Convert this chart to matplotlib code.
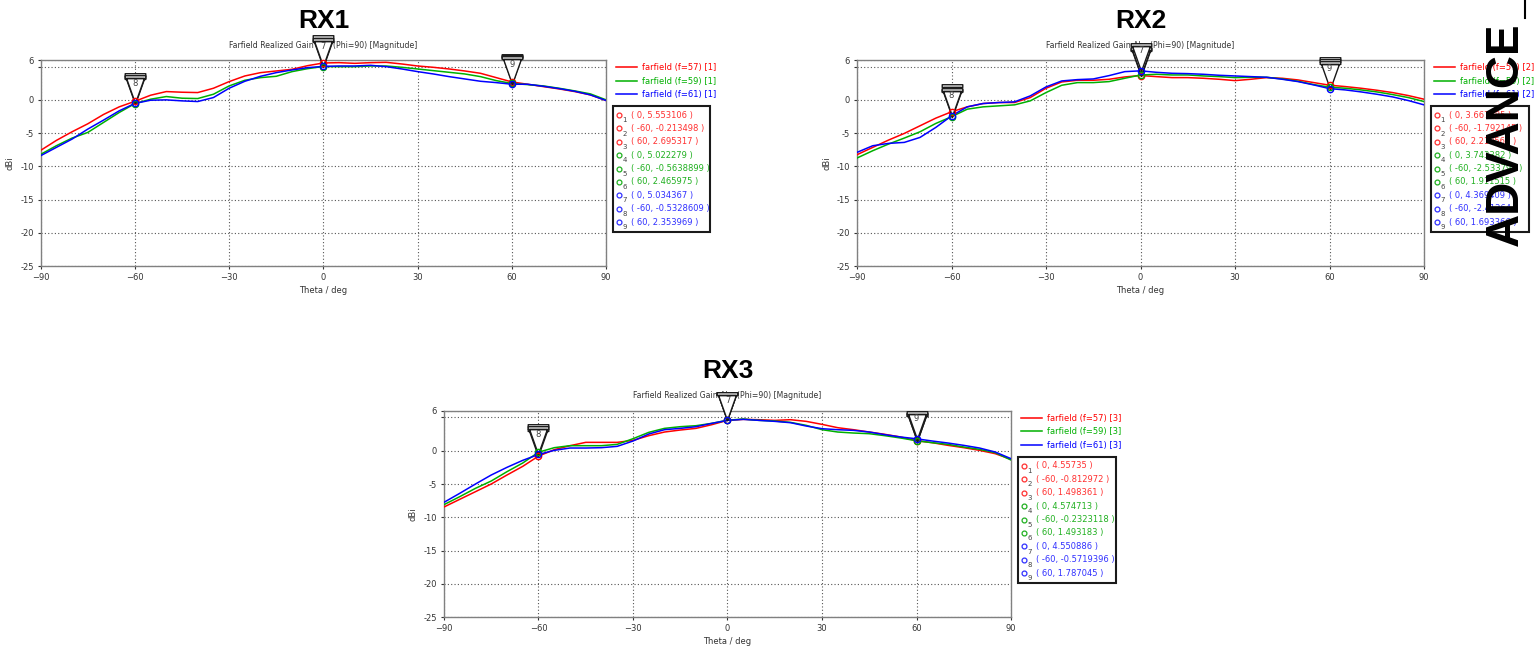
import numpy as np
import matplotlib.pyplot as plt
from matplotlib.path import Path
from matplotlib.patches import Rectangle
from matplotlib.lines import Line2D

# theta sampling (deg) and frequencies
theta = np.arange(-90, 95, 5)
freqs = [57, 59, 61]
colors = ['#ff0000', '#00b000', '#0000ff']
text_colors = ['#ff3030', '#20b020', '#3030ff']
marker_angles = [0, -60, 60]

# RX1 realized gain (dBi)
rx1_f57 = [-7.6, -6.1, -4.8, -3.6, -2.2, -1.05, -0.213498, 0.7, 1.25, 1.15, 1.1, 1.75, 2.75,
           3.6, 4.1, 4.35, 4.6, 5.15, 5.553106, 5.6, 5.5, 5.6, 5.65, 5.4, 5.1, 4.9, 4.65,
           4.35, 4.0, 3.35, 2.695317, 2.35, 2.0, 1.65, 1.25, 0.75, -0.1]
rx1_f59 = [-8.2, -6.9, -5.75, -4.9, -3.4, -1.9, -0.5638899, 0.1, 0.5, 0.25, 0.2, 0.85, 2.1,
           2.95, 3.35, 3.55, 4.25, 4.7, 5.022279, 5.0, 5.0, 5.1, 5.1, 4.9, 4.65, 4.4, 4.15,
           3.9, 3.5, 2.9, 2.465975, 2.3, 2.1, 1.75, 1.35, 0.9, 0.0]
rx1_f61 = [-8.4, -7.15, -5.9, -4.4, -3.05, -1.65, -0.5328609, -0.05, 0.0, -0.15, -0.25, 0.35,
           1.75, 2.8, 3.55, 4.1, 4.5, 4.85, 5.034367, 5.1, 5.1, 5.2, 5.0, 4.65, 4.25, 3.9,
           3.5, 3.15, 2.8, 2.6, 2.353969, 2.35, 2.05, 1.7, 1.3, 0.75, -0.1]
rx1_marks = [[5.553106, -0.213498, 2.695317],
             [5.022279, -0.5638899, 2.465975],
             [5.034367, -0.5328609, 2.353969]]

# RX2
rx2_f57 = [-8.25, -7.15, -6.05, -5.05, -3.9, -2.75, -1.792145, -1.05, -0.55, -0.4, -0.4, 0.35,
           1.75, 2.7, 2.95, 2.95, 3.1, 3.45, 3.667985, 3.5, 3.35, 3.35, 3.25, 3.1, 2.9, 3.1,
           3.35, 3.25, 3.0, 2.6, 2.210563, 2.0, 1.75, 1.45, 1.1, 0.65, 0.1]
rx2_f59 = [-8.75, -7.65, -6.65, -5.75, -4.8, -3.55, -2.533791, -1.4, -1.05, -0.9, -0.75, -0.15,
           1.1, 2.2, 2.6, 2.6, 2.75, 3.25, 3.743382, 3.85, 3.75, 3.75, 3.6, 3.5, 3.35, 3.4,
           3.4, 3.15, 2.8, 2.3, 1.911515, 1.75, 1.5, 1.2, 0.8, 0.35, -0.25]
rx2_f61 = [-7.9, -6.9, -6.55, -6.4, -5.65, -4.15, -2.41264, -1.05, -0.55, -0.4, -0.3, 0.6,
           1.95, 2.85, 3.05, 3.15, 3.65, 4.25, 4.369409, 4.15, 4.0, 3.95, 3.85, 3.7, 3.6, 3.5,
           3.4, 3.1, 2.75, 2.25, 1.693366, 1.5, 1.2, 0.85, 0.45, -0.1, -0.75]
rx2_marks = [[3.667985, -1.792145, 2.210563],
             [3.743382, -2.533791, 1.911515],
             [4.369409, -2.41264, 1.693366]]

# RX3
rx3_f57 = [-8.45, -7.3, -6.15, -5.0, -3.65, -2.35, -0.812972, 0.15, 0.75, 1.25, 1.25, 1.25,
           1.55, 2.25, 2.8, 3.1, 3.35, 3.9, 4.55735, 4.7, 4.65, 4.55, 4.65, 4.4, 3.95, 3.45,
           3.15, 2.8, 2.45, 2.05, 1.498361, 1.2, 0.8, 0.45, 0.05, -0.45, -1.3]
rx3_f59 = [-8.1, -6.9, -5.65, -4.55, -3.15, -1.85, -0.2323118, 0.45, 0.75, 0.75, 0.75, 0.95,
           1.8, 2.75, 3.35, 3.6, 3.75, 4.1, 4.574713, 4.75, 4.55, 4.45, 4.25, 3.8, 3.15, 2.8,
           2.65, 2.55, 2.25, 1.9, 1.493183, 1.2, 0.95, 0.55, 0.2, -0.3, -1.4]
rx3_f61 = [-7.75, -6.4, -5.0, -3.65, -2.5, -1.45, -0.5719396, 0.05, 0.4, 0.4, 0.45, 0.65,
           1.45, 2.5, 3.15, 3.35, 3.6, 4.1, 4.550886, 4.7, 4.55, 4.4, 4.2, 3.7, 3.3, 3.15,
           3.05, 2.8, 2.4, 2.05, 1.787045, 1.45, 1.15, 0.8, 0.4, -0.2, -1.2]
rx3_marks = [[4.55735, -0.812972, 1.498361],
             [4.574713, -0.2323118, 1.493183],
             [4.550886, -0.5719396, 1.787045]]

panels = [
    ("RX1", 1, [0.0264, 0.5895, 0.3672, 0.3179], [rx1_f57, rx1_f59, rx1_f61], rx1_marks),
    ("RX2", 2, [0.5565, 0.5895, 0.3682, 0.3179], [rx2_f57, rx2_f59, rx2_f61], rx2_marks),
    ("RX3", 3, [0.2883, 0.0474, 0.3682, 0.3188], [rx3_f57, rx3_f59, rx3_f61], rx3_marks),
]

# CST style marker flag: triangle pointing at the point with a bar on top
tri = Path([(0, 0), (-0.32, 0.9), (0.32, 0.9), (0, 0),
            (-0.37, 0.9), (0.37, 0.9), (0.37, 1.0), (-0.37, 1.0), (-0.37, 0.9)],
           [Path.MOVETO, Path.LINETO, Path.LINETO, Path.CLOSEPOLY,
            Path.MOVETO, Path.LINETO, Path.LINETO, Path.LINETO, Path.CLOSEPOLY])

plt.rcParams['font.family'] = 'DejaVu Sans'
fig = plt.figure(figsize=(15.4, 6.48), dpi=100)

for name, idx, pos, curves, marks in panels:
    ax = fig.add_axes(pos)
    handles = []
    for k, (vals, c) in enumerate(zip(curves, colors)):
        ln, = ax.plot(theta, vals, color=c, lw=1.1, zorder=3)
        handles.append(ln)

    # markers 1..9, only the last set (7, 8, 9) shows its number on top
    for k in range(3):
        for j, ang in enumerate(marker_angles):
            num = 3 * k + j + 1
            ax.plot([ang], [marks[k][j]], marker=tri, ms=40, mfc='white', mec='#1a1a1a',
                    mew=1.0, ls='none', clip_on=False, zorder=10 + 2 * num)
            if k == 2:
                ax.annotate(str(num), (ang, marks[k][j]), xytext=(0, 14.5),
                            textcoords='offset points', ha='center', va='center',
                            fontsize=6, color='#404040', annotation_clip=False,
                            zorder=11 + 2 * num)
    for k in range(3):
        ax.plot(marker_angles, marks[k], 'o', ms=4.5, mfc='none', mec=colors[k], mew=1.0,
                ls='none', clip_on=False, zorder=40)

    ax.set_xlim(-90, 90)
    ax.set_ylim(-25, 6)
    ax.set_xticks([-90, -60, -30, 0, 30, 60, 90])
    ax.set_yticks([-25, -20, -15, -10, -5, 0, 5, 6])
    ax.set_yticklabels(['-25', '-20', '-15', '-10', '-5', '0', '', '6'])
    ax.grid(True, color='#555555', ls=(0, (1, 2)), lw=0.8)
    ax.tick_params(labelsize=6, colors='#333333', length=2, pad=3)
    for s in ax.spines.values():
        s.set_color('#808080')
        s.set_linewidth(1.0)
    ax.set_xlabel('Theta / deg', fontsize=6, color='#333333', labelpad=3)
    ax.set_ylabel('dBi', fontsize=6, color='#333333', labelpad=4)

    ax.text(0.5, 1.19, name, transform=ax.transAxes, ha='center', va='center',
            fontsize=19, fontweight='bold', family='Liberation Sans')
    ax.text(0.5, 1.072, 'Farfield Realized Gain Abs (Phi=90) [Magnitude]',
            transform=ax.transAxes, ha='center', va='center', fontsize=5.6, color='#333333')

    leg = ax.legend(handles, [f'farfield (f={f}) [{idx}]' for f in freqs],
                    loc='upper left', bbox_to_anchor=(1.018, 0.985), frameon=False,
                    fontsize=6, handlelength=2.5, handletextpad=0.55, labelspacing=0.55,
                    borderpad=0, borderaxespad=0, labelcolor='linecolor')

    # marker value box
    ax.add_patch(Rectangle((1.0124, 0.165), 0.172, 0.612, transform=ax.transAxes,
                           fc='white', ec='#1a1a1a', lw=1.5, clip_on=False, zorder=5))
    for k in range(3):
        for j, ang in enumerate(marker_angles):
            num = 3 * k + j + 1
            yr = 0.733 - 0.065 * (num - 1)
            ax.plot([1.0225], [yr], 'o', ms=3.5, mfc='none', mec=text_colors[k], mew=0.9,
                    transform=ax.transAxes, clip_on=False, zorder=6)
            ax.text(1.029, yr - 0.025, str(num), transform=ax.transAxes, fontsize=5,
                    color='#444444', ha='left', va='center', zorder=6)
            ax.text(1.0437, yr, f'( {ang}, {marks[k][j]:.7g} )', transform=ax.transAxes,
                    fontsize=6, color=text_colors[k], ha='left', va='center', zorder=6)

fig.text(0.978, 0.793, 'ADVANCE', rotation=90, ha='center', va='center', fontsize=33,
         fontweight='bold', family='Liberation Sans', color='black')
fig.add_artist(Line2D([0.9905, 0.9905], [0.972, 1.0], color='black', lw=1.5))

fig.savefig('out.png', dpi=100)
